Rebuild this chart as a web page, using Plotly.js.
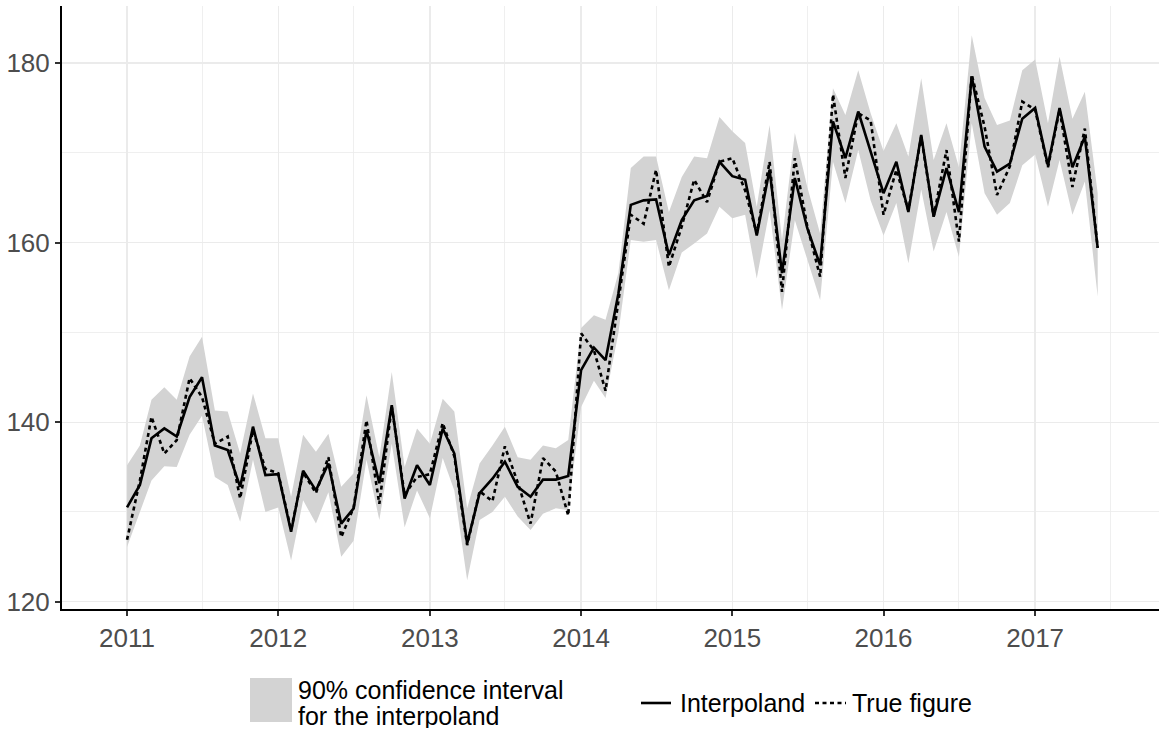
<!DOCTYPE html>
<html>
<head>
<meta charset="utf-8">
<script src="https://cdn.plot.ly/plotly-3.0.1.min.js"></script>
<style>html,body{margin:0;padding:0;background:#fff;}#chart{width:1159px;height:733px;}</style>
</head>
<body>
<div id="chart"></div>
<script>
// Monthly observations, Jan 2011 – Jun 2017
const startYear = 2011;
const startMonth = 1;
const nMonths = 78;

const interpoland = [
  130.5, 133.0, 138.2, 139.3, 138.4, 142.8, 145.0, 137.4, 136.9, 132.8, 139.5, 134.1,
  134.2, 127.8, 134.6, 132.4, 135.4, 128.7, 130.4, 139.1, 133.2, 141.9, 131.5, 135.2,
  133.0, 139.3, 136.5, 126.5, 132.1, 133.7, 135.6, 132.8, 131.7, 133.6, 133.6, 134.0,
  145.8, 148.3, 146.9, 154.3, 164.2, 164.7, 164.8, 158.6, 162.5, 164.7, 165.2, 169.0,
  167.4, 167.0, 160.8, 168.1, 156.6, 167.2, 161.6, 157.5, 173.5, 169.4, 174.6, 170.1,
  165.5, 169.0, 163.4, 172.0, 162.9, 168.3, 163.4, 178.5, 170.7, 167.9, 168.8, 173.8,
  175.0, 168.6, 175.0, 168.4, 171.8, 159.4
];

const trueFigure = [
  126.9, 133.5, 140.6, 136.5, 138.0, 144.9, 142.8, 137.6, 138.4, 131.5, 139.1, 134.8,
  134.3, 128.0, 134.4, 132.1, 136.1, 127.2, 130.5, 140.2, 130.9, 141.7, 131.9, 133.9,
  134.2, 139.9, 136.2, 126.3, 132.3, 131.2, 137.3, 133.3, 128.7, 136.0, 134.5, 129.6,
  149.9, 148.0, 143.5, 153.5, 163.1, 162.1, 168.1, 157.3, 161.8, 167.0, 164.5, 169.0,
  169.4, 165.8, 161.0, 169.0, 154.5, 169.4, 161.8, 156.2, 176.5, 167.2, 174.4, 173.6,
  163.1, 168.1, 163.6, 171.8, 162.9, 170.3, 160.1, 178.7, 172.9, 165.3, 168.5, 175.7,
  174.8, 168.4, 174.8, 166.2, 172.7, 159.4
];

const ciUpper = [
  135.2, 137.4, 142.5, 143.9, 142.5, 147.3, 149.5, 141.3, 141.2, 136.5, 143.2, 138.2,
  138.2, 131.7, 138.6, 136.7, 138.7, 132.8, 134.3, 143.0, 136.1, 145.6, 135.0, 139.3,
  137.6, 142.6, 141.2, 130.4, 135.4, 137.4, 139.5, 136.1, 135.8, 137.4, 137.1, 138.0,
  150.5, 151.9, 151.4, 156.6, 168.3, 169.6, 169.6, 163.4, 167.3, 169.6, 169.4, 174.0,
  172.4, 171.1, 164.0, 173.1, 160.3, 172.2, 166.2, 161.0, 177.2, 174.2, 179.2, 174.4,
  170.2, 173.3, 169.6, 178.3, 169.2, 173.3, 168.4, 183.1, 176.1, 173.1, 173.6, 179.2,
  180.4, 173.3, 180.7, 173.8, 176.8, 165.5
];

const ciLower = [
  126.1, 129.9, 133.5, 135.1, 135.0, 138.6, 140.7, 133.9, 133.0, 128.9, 135.8, 130.0,
  130.5, 124.6, 131.3, 128.7, 132.2, 125.0, 126.8, 135.8, 129.1, 137.6, 128.3, 132.4,
  129.3, 136.0, 132.4, 122.4, 129.1, 130.0, 131.7, 129.5, 128.0, 129.8, 130.4, 130.2,
  141.7, 144.6, 142.7, 149.9, 160.3, 160.1, 160.3, 154.7, 158.9, 159.9, 161.0, 164.0,
  162.7, 163.1, 156.0, 163.6, 152.5, 162.5, 158.0, 153.6, 169.0, 164.4, 170.3, 164.7,
  160.8, 164.4, 157.7, 165.9, 159.0, 163.4, 158.4, 173.3, 165.5, 163.1, 164.4, 168.6,
  169.8, 164.0, 169.2, 163.1, 166.8, 154.0
];

const yTickVals = [120, 140, 160, 180];
const legendLabels = ["90% confidence interval", "for the interpoland", "Interpoland", "True figure"];

// month dates
const dates = [];
for (let i = 0; i < nMonths; i++) {
  const m0 = startMonth - 1 + i;
  const y = startYear + Math.floor(m0 / 12);
  const m = (m0 % 12) + 1;
  dates.push(y + "-" + String(m).padStart(2, "0") + "-01");
}

const FONT = "Liberation Sans, Arial, sans-serif";
const BAND = "#D3D3D3";
const LW = 2.6;
const DASH = "4px,3.5px";

const traces = [
  {x: dates, y: ciLower, type: "scatter", mode: "lines", line: {width: 0, color: BAND},
   showlegend: false, hoverinfo: "skip"},
  {x: dates, y: ciUpper, type: "scatter", mode: "lines", line: {width: 0, color: BAND},
   fill: "tonexty", fillcolor: BAND, showlegend: false, hoverinfo: "skip"},
  {x: dates, y: trueFigure, type: "scatter", mode: "lines", name: "True figure",
   line: {color: "#000", width: LW, dash: DASH}, showlegend: false},
  {x: dates, y: interpoland, type: "scatter", mode: "lines", name: "Interpoland",
   line: {color: "#000", width: LW}, showlegend: false}
];

// custom legend (paper coordinates: plot area 62..1159 x, 6..609 y)
const PW = 1097, PH = 603, PL = 62, PB = 609;
const px = v => (v - PL) / PW;
const py = v => (PB - v) / PH;

const shapes = [
  {type: "rect", xref: "paper", yref: "paper", x0: px(250), x1: px(292), y0: py(722), y1: py(678),
   fillcolor: BAND, line: {width: 0}},
  {type: "line", xref: "paper", yref: "paper", x0: px(641), x1: px(671), y0: py(703), y1: py(703),
   line: {color: "#000", width: LW}},
  {type: "line", xref: "paper", yref: "paper", x0: px(815), x1: px(846), y0: py(703), y1: py(703),
   line: {color: "#000", width: LW, dash: DASH}}
];

const annFont = {family: FONT, size: 25, color: "#000"};
const annotations = [
  {xref: "paper", yref: "paper", x: px(296), y: py(690), text: legendLabels[0], showarrow: false,
   xanchor: "left", yanchor: "middle", font: annFont, height: 24},
  {xref: "paper", yref: "paper", x: px(296), y: py(716), text: legendLabels[1], showarrow: false,
   xanchor: "left", yanchor: "middle", font: annFont, height: 24},
  {xref: "paper", yref: "paper", x: px(678), y: py(703), text: legendLabels[2], showarrow: false,
   xanchor: "left", yanchor: "middle", font: annFont},
  {xref: "paper", yref: "paper", x: px(850), y: py(703), text: legendLabels[3], showarrow: false,
   xanchor: "left", yanchor: "middle", font: annFont}
];

const tickFont = {family: FONT, size: 26, color: "#4D4D4D"};

const layout = {
  width: 1159, height: 733,
  margin: {l: 62, r: 0, t: 6, b: 124, pad: 0},
  paper_bgcolor: "#fff", plot_bgcolor: "#fff",
  font: {family: FONT, size: 26, color: "#4D4D4D"},
  showlegend: false,
  xaxis: {
    type: "date",
    range: ["2010-07-28", "2017-10-27"],
    tick0: "2011-01-01", dtick: "M12", tickformat: "%Y",
    showgrid: true, gridcolor: "#EBEBEB", gridwidth: 1.3,
    minor: {dtick: "M6", tick0: "2011-01-01", showgrid: true, gridcolor: "#EBEBEB", gridwidth: 0.8, ticks: ""},
    showline: true, linecolor: "#000", linewidth: 2,
    ticks: "outside", ticklen: 5, tickwidth: 2, tickcolor: "#333333",
    zeroline: false, tickfont: tickFont
  },
  yaxis: {
    range: [119.19, 186.35],
    tickvals: yTickVals,
    showgrid: true, gridcolor: "#EBEBEB", gridwidth: 1.3,
    minor: {dtick: 10, tick0: 120, showgrid: true, gridcolor: "#EBEBEB", gridwidth: 0.8, ticks: ""},
    showline: true, linecolor: "#000", linewidth: 2,
    ticks: "outside", ticklen: 5, tickwidth: 2, tickcolor: "#333333",
    zeroline: false, tickfont: tickFont
  },
  shapes: shapes,
  annotations: annotations
};

Plotly.newPlot("chart", traces, layout, {staticPlot: true, displayModeBar: false});
</script>
</body>
</html>
